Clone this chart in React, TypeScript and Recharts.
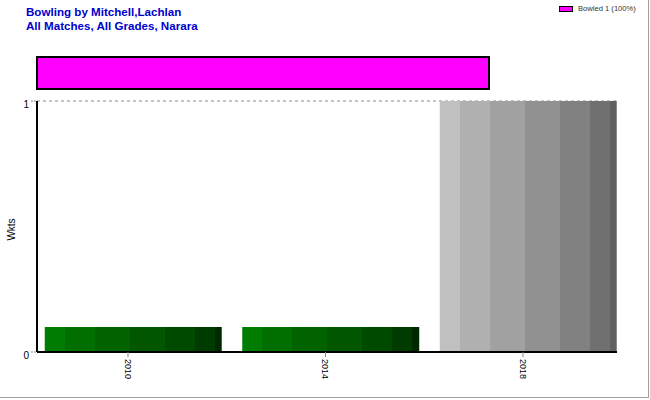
import React from 'react';
import { BarChart, Bar, XAxis, YAxis, CartesianGrid, Cell, Rectangle } from 'recharts';

// ---- data ----
const years = [2010, 2014, 2018];
const wickets = [0.1, 0.1, 1];
const seasonShade = ['green', 'green', 'gray'];
const yTicks = [0, 1];

const dismissalTypes = ['Bowled'];
const dismissalCounts = [1];
const dismissalShares = [1];
const dismissalColors = ['#ff00ff'];

const titleLines = ['Bowling by Mitchell,Lachlan', 'All Matches, All Grades, Narara'];
const yLabel = 'Wkts';

// ---- styles ----
const FONT = "Arial, 'Liberation Sans', sans-serif";
const shadeStops = [0, 0.113, 0.282, 0.48, 0.678, 0.847, 0.96, 1];
const greenShades = ['#007d00', '#006f00', '#006300', '#005700', '#004a00', '#003b00', '#002900'];
const grayShades = ['#c0c0c0', '#b0b0b0', '#a1a1a1', '#919191', '#818181', '#707070', '#606060'];

const mainData = years.map((y, i) => ({ year: y, wkts: wickets[i], shade: seasonShade[i] }));
const dismissalData = dismissalTypes.map((t, i) => ({
  type: t,
  count: dismissalCounts[i],
  share: dismissalShares[i],
  color: dismissalColors[i],
}));

const Gradient = ({ id, shades }: { id: string; shades: string[] }) => (
  <linearGradient id={id} x1="0" y1="0" x2="1" y2="0">
    {shades.map((c, i) => (
      <React.Fragment key={i}>
        <stop offset={shadeStops[i]} stopColor={c} />
        <stop offset={shadeStops[i + 1]} stopColor={c} />
      </React.Fragment>
    ))}
  </linearGradient>
);

const XTick = (props: any) => {
  const { x, y, payload } = props;
  return (
    <text
      x={x}
      y={y}
      dy="0.35em"
      transform={`rotate(90, ${x}, ${y})`}
      textAnchor="start"
      fontSize={9}
      fontFamily={FONT}
      fill="#000"
    >
      {payload.value}
    </text>
  );
};

const ShiftedBar = (props: any) => {
  const { x, y, width, height, fill } = props;
  return <Rectangle x={x + 5.5} y={y} width={width} height={height} fill={fill} />;
};

const YLabel = (props: any) => {
  const { viewBox } = props;
  const cx = viewBox.x + 11;
  const cy = viewBox.y + viewBox.height / 2 + 3;
  return (
    <text
      x={cx}
      y={cy}
      transform={`rotate(-90, ${cx}, ${cy})`}
      textAnchor="middle"
      dy="0.35em"
      fontSize={10}
      fontFamily={FONT}
      fill="#000"
    >
      {yLabel}
    </text>
  );
};

export default function App() {
  return (
    <div
      style={{
        position: 'absolute',
        left: 0,
        top: 0,
        width: 650,
        height: 400,
        background: '#fff',
        fontFamily: FONT,
        overflow: 'hidden',
      }}
    >
      <svg width={0} height={0} style={{ position: 'absolute' }}>
        <defs>
          <Gradient id="shadeGreen" shades={greenShades} />
          <Gradient id="shadeGray" shades={grayShades} />
        </defs>
      </svg>

      <div
        style={{
          position: 'absolute',
          left: 26,
          top: 5,
          fontSize: 11.6,
          lineHeight: '14px',
          fontWeight: 'bold',
          color: '#0000cc',
          whiteSpace: 'nowrap',
        }}
      >
        {titleLines.map((t) => (
          <div key={t}>{t}</div>
        ))}
      </div>

      <div style={{ position: 'absolute', left: 0, top: 0 }}>
        <BarChart
          width={650}
          height={400}
          data={mainData}
          margin={{ top: 101, right: 33, bottom: 0, left: 0 }}
        >
          <CartesianGrid vertical={false} stroke="#888" strokeDasharray="3 3" />
          <XAxis
            dataKey="year"
            type="number"
            domain={[2008.157, 2019.904]}
            allowDataOverflow
            ticks={years}
            interval={0}
            height={48}
            axisLine={{ stroke: '#000', strokeWidth: 2 }}
            tickLine={{ stroke: '#888' }}
            tickSize={5}
            tickMargin={2}
            tick={<XTick />}
          />
          <YAxis
            domain={[0, 1]}
            ticks={yTicks}
            width={37}
            axisLine={{ stroke: '#000', strokeWidth: 2 }}
            tickLine={{ stroke: '#888', strokeDasharray: '2 1' }}
            tickSize={6}
            tickMargin={2}
            tick={{ fontSize: 10, fill: '#000', fontFamily: FONT, dy: 3 }}
            label={<YLabel />}
          />
          <Bar dataKey="wkts" barSize={177} isAnimationActive={false} shape={<ShiftedBar />}>
            {mainData.map((d, i) => (
              <Cell key={i} fill={d.shade === 'green' ? 'url(#shadeGreen)' : 'url(#shadeGray)'} />
            ))}
          </Bar>
        </BarChart>
      </div>

      <div style={{ position: 'absolute', left: 0, top: 0 }}>
        <BarChart
          layout="vertical"
          width={650}
          height={100}
          data={dismissalData}
          margin={{ top: 57, right: 161, bottom: 11, left: 37 }}
          barCategoryGap={0}
        >
          <XAxis type="number" domain={[0, 1]} hide />
          <YAxis type="category" dataKey="type" hide />
          <Bar dataKey="share" stroke="#000" strokeWidth={2} isAnimationActive={false}>
            {dismissalData.map((d, i) => (
              <Cell key={i} fill={d.color} />
            ))}
          </Bar>
        </BarChart>
      </div>

      <div
        style={{
          position: 'absolute',
          left: 559,
          top: 4,
          display: 'flex',
          alignItems: 'center',
          fontSize: 7.6,
          color: '#333',
          whiteSpace: 'nowrap',
        }}
      >
        {dismissalData.map((d) => (
          <React.Fragment key={d.type}>
            <span
              style={{
                display: 'inline-block',
                width: 12,
                height: 4,
                background: d.color,
                border: '1px solid #000',
                marginRight: 5,
              }}
            />
            <span>{`${d.type} ${d.count} (${Math.round(d.share * 100)}%)`}</span>
          </React.Fragment>
        ))}
      </div>

      <div
        style={{
          position: 'absolute',
          left: 0,
          top: 0,
          width: 648,
          height: 397,
          borderRight: '1px solid #a0a0a0',
          borderBottom: '1px solid #a0a0a0',
          pointerEvents: 'none',
        }}
      />
    </div>
  );
}
